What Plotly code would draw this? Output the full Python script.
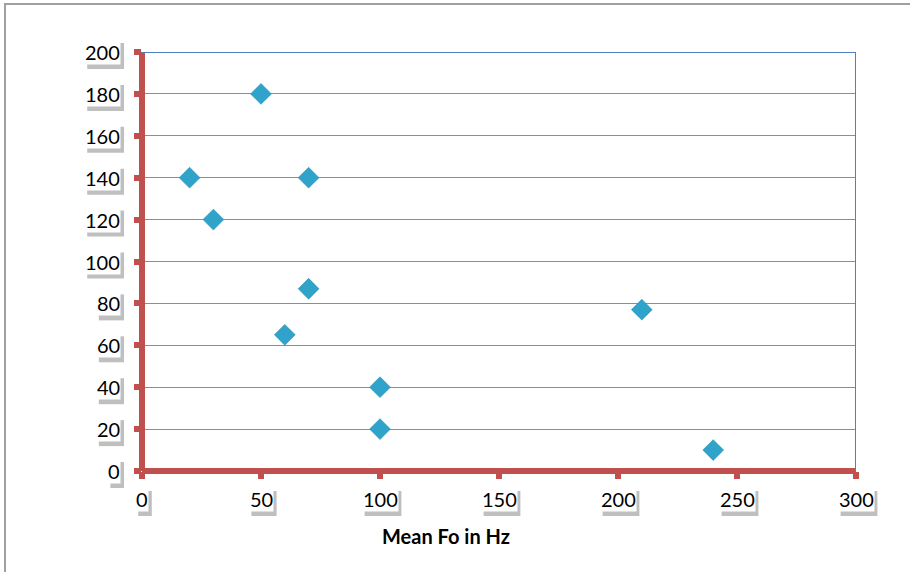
import plotly.graph_objects as go

# Data
mean_fo_hz = [50, 20, 70, 30, 70, 60, 210, 100, 100, 240]
y_values = [180, 140, 140, 120, 87, 65, 77, 40, 20, 10]

x_ticks = [0, 50, 100, 150, 200, 250, 300]
y_ticks = [0, 20, 40, 60, 80, 100, 120, 140, 160, 180, 200]
x_title = "Mean Fo in Hz"

X_RANGE = [0, 300]
Y_RANGE = [0, 200]
RED = "#C0504D"
BLUE = "#4F81BD"
FONT = "Lato"
FS = 20
DIGIT_W = 0.58 * FS
SHADOW = "rgba(0,0,0,0.25)"

fig = go.Figure()
fig.add_trace(go.Scatter(
    x=mean_fo_hz, y=y_values, mode="markers",
    marker=dict(symbol="diamond", size=16, color="#2FA3C9",
                line=dict(width=0.6, color="#2790B4")),
    showlegend=False, hoverinfo="x+y",
))

fig.update_xaxes(
    range=X_RANGE, tickvals=x_ticks, showticklabels=False,
    showgrid=False, showline=False,
    zeroline=True, zerolinecolor=RED, zerolinewidth=6,
    ticks="outside", ticklen=7, tickwidth=6, tickcolor=RED,
    fixedrange=True,
)
fig.update_yaxes(
    range=Y_RANGE, tickvals=y_ticks, showticklabels=False,
    showgrid=True, gridcolor="#8E8E8E", gridwidth=1.2,
    showline=False,
    zeroline=True, zerolinecolor=RED, zerolinewidth=6,
    ticks="outside", ticklen=7, tickwidth=6, tickcolor=RED,
    fixedrange=True,
)


def xp(v):
    return (v - X_RANGE[0]) / (X_RANGE[1] - X_RANGE[0])


def yp(v):
    return (v - Y_RANGE[0]) / (Y_RANGE[1] - Y_RANGE[0])


annotations = []
shapes = []
for v in y_ticks:
    t = str(v)
    w = len(t) * DIGIT_W + 2
    annotations.append(dict(xref="x", yref="y", x=0, y=v, xanchor="right", yanchor="middle",
                            showarrow=False, text=t, borderpad=0, xshift=-21,
                            font=dict(family=FONT, size=FS, color="black"),
                            bgcolor="white"))
    shapes.append(dict(type="rect", xref="paper", yref="paper", xsizemode="pixel", ysizemode="pixel",
                       xanchor=0, yanchor=yp(v), x0=-21 - w + 3, x1=-21 + 3, y0=-17, y1=9,
                       fillcolor=SHADOW, line=dict(width=0), layer="below"))
for v in x_ticks:
    t = str(v)
    w = len(t) * DIGIT_W + 2
    annotations.append(dict(xref="x", yref="paper", x=v, y=0, xanchor="center", yanchor="top",
                            showarrow=False, text=t, borderpad=0, yshift=-15,
                            font=dict(family=FONT, size=FS, color="black"),
                            bgcolor="white"))
    shapes.append(dict(type="rect", xref="paper", yref="paper", xsizemode="pixel", ysizemode="pixel",
                       xanchor=xp(v), yanchor=0, x0=-w / 2 + 3, x1=w / 2 + 3, y0=-45, y1=-20,
                       fillcolor=SHADOW, line=dict(width=0), layer="below"))
annotations.append(dict(xref="paper", yref="paper", x=(446 - 142) / 714, y=(471 - 536) / 419,
                        xanchor="center", yanchor="middle", showarrow=False,
                        text="<b>" + x_title + "</b>",
                        font=dict(family=FONT, size=20, color="black")))

shapes += [
    dict(type="line", xref="x", yref="y", x0=0, x1=300, y0=200, y1=200,
         line=dict(color=BLUE, width=2)),
    dict(type="line", xref="x", yref="y", x0=300, x1=300, y0=0, y1=200,
         line=dict(color=BLUE, width=2)),
    dict(type="rect", xref="paper", yref="paper",
         x0=(5 - 142) / 714, x1=(913 - 142) / 714,
         y0=(471 - 576) / 419, y1=(471 - 4) / 419,
         line=dict(color="#A0A0A0", width=2), layer="below"),
]

fig.update_layout(
    width=910, height=572,
    margin=dict(l=142, r=54, t=52, b=101),
    paper_bgcolor="white", plot_bgcolor="white",
    annotations=annotations, shapes=shapes,
    font=dict(family=FONT),
)

fig.write_html("out.html", config={"displayModeBar": False})
